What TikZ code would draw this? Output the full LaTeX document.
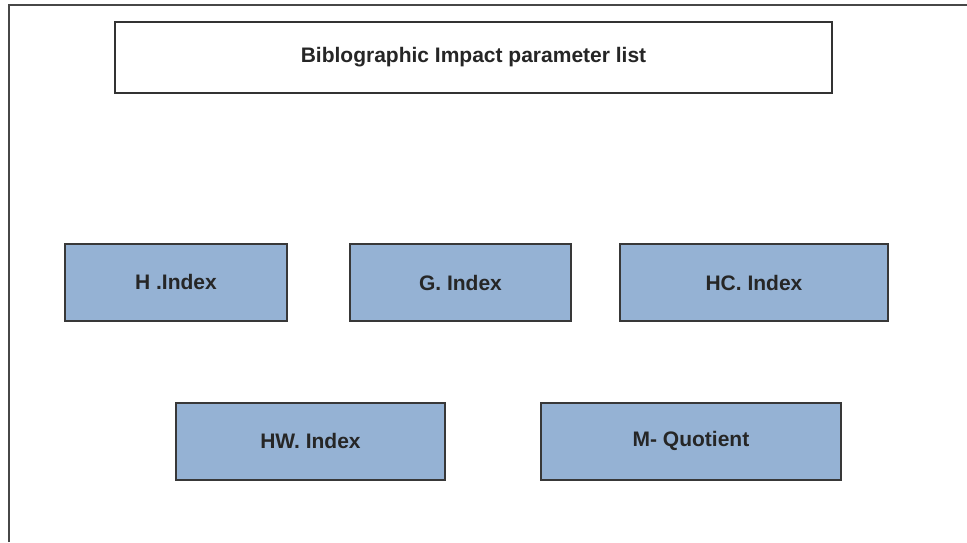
\documentclass[tikz,border=0pt]{standalone}
\usepackage{fontspec}
\setmainfont{Liberation Sans}
\begin{document}
\begin{tikzpicture}[x=1pt,y=-1pt,
  titlebox/.style={draw=black!80, line width=2pt, fill=white, inner sep=0pt, outer sep=0pt,
    minimum width=#1, minimum height=71pt, font=\fontsize{21}{24}\selectfont\bfseries, text=black!85},
  parambox/.style={draw=black!78, line width=2pt, fill=paramblue, inner sep=0pt, outer sep=0pt,
    minimum width=#1, minimum height=77pt, font=\fontsize{21}{24}\selectfont\bfseries, text=black!85}]
\definecolor{paramblue}{RGB}{149,178,212}
\useasboundingbox (0,0) rectangle (967,542);
% outer frame, open on the right and bottom
\coordinate (fbl) at (9,542);
\coordinate (ftl) at (9,5);
\coordinate (ftr) at (967,5);
\draw[black!72, line width=2pt] (fbl) -- (ftl) -- (ftr);
% heading
\node[titlebox=717pt] (title) at (473.5,57) {Biblographic Impact parameter list};
% first row of parameters
\node[parambox=222pt] (h)  at (176,282)   {H .Index};
\node[parambox=221pt] (g)  at (460.5,282.5) {G. Index};
\node[parambox=268pt] (hc) at (754,282.5)   {HC. Index};
% second row
\node[parambox=269pt] (hw) at (310.5,441) {HW. Index};
\node[parambox=300pt] (mq) at (691,441)   {M- Quotient};
\end{tikzpicture}
\end{document}
